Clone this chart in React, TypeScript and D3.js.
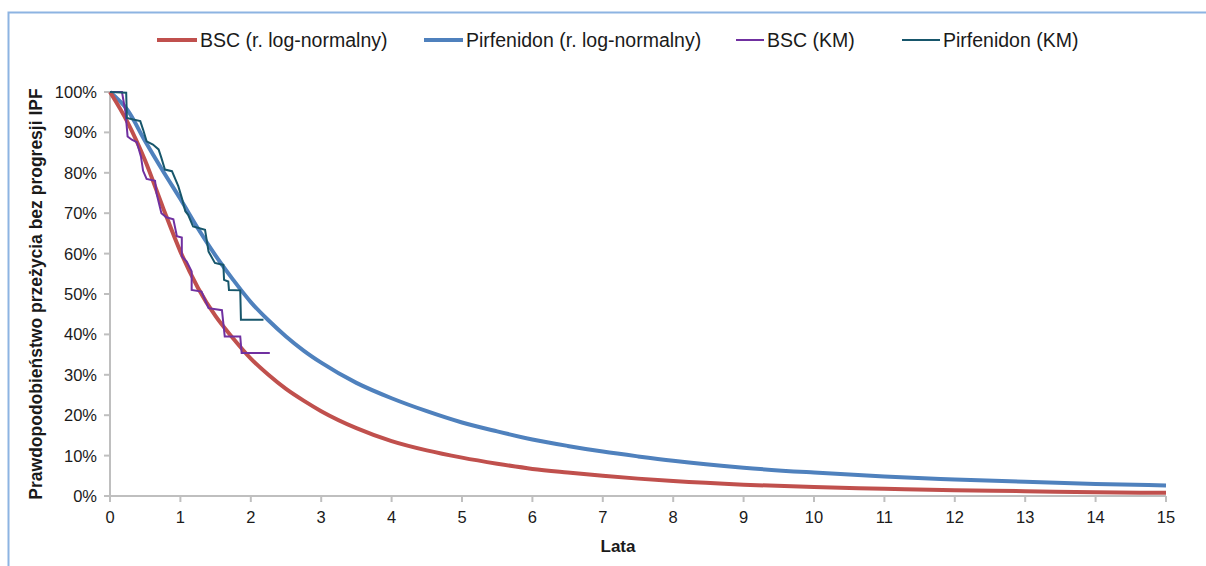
import React from "react";
import * as d3 from "d3";

// Parametric (log-normal) survival curves, sampled in years
const modelYears = [0, 0.25, 0.5, 0.75, 1, 1.25, 1.5, 1.75, 2, 2.25, 2.5, 2.75, 3, 3.5, 4, 4.5, 5, 5.5, 6, 6.5, 7, 7.5, 8, 9, 10, 11, 12, 13, 14, 15];
const bscModel = [1.0, 0.925, 0.83, 0.715, 0.605, 0.515, 0.445, 0.39, 0.34, 0.30, 0.265, 0.236, 0.21, 0.168, 0.136, 0.113, 0.095, 0.08, 0.067, 0.058, 0.05, 0.043, 0.037, 0.028, 0.022, 0.018, 0.014, 0.012, 0.009, 0.008];
const pirModel = [1.0, 0.955, 0.878, 0.805, 0.735, 0.662, 0.595, 0.535, 0.48, 0.435, 0.395, 0.36, 0.33, 0.28, 0.242, 0.21, 0.182, 0.16, 0.14, 0.124, 0.11, 0.098, 0.087, 0.07, 0.058, 0.048, 0.041, 0.035, 0.03, 0.026];

// Kaplan-Meier estimates (time in years, survival)
const bscKmYears = [0, 0.17, 0.22, 0.25, 0.31, 0.38, 0.44, 0.47, 0.52, 0.64, 0.66, 0.73, 0.8, 0.9, 0.95, 1.02, 1.02, 1.09, 1.16, 1.16, 1.3, 1.4, 1.59, 1.63, 1.85, 1.87, 2.27];
const bscKm = [1.0, 1.0, 0.95, 0.89, 0.882, 0.876, 0.84, 0.805, 0.785, 0.78, 0.75, 0.70, 0.69, 0.685, 0.643, 0.64, 0.593, 0.58, 0.556, 0.51, 0.506, 0.465, 0.46, 0.395, 0.395, 0.354, 0.354];
const pirKmYears = [0, 0.23, 0.24, 0.33, 0.43, 0.47, 0.52, 0.61, 0.69, 0.73, 0.78, 0.88, 0.97, 1.02, 1.07, 1.11, 1.18, 1.35, 1.4, 1.49, 1.61, 1.62, 1.68, 1.69, 1.85, 1.86, 2.18];
const pirKm = [1.0, 0.998, 0.936, 0.932, 0.928, 0.907, 0.878, 0.87, 0.858, 0.837, 0.808, 0.804, 0.767, 0.738, 0.705, 0.696, 0.667, 0.659, 0.605, 0.577, 0.572, 0.535, 0.531, 0.51, 0.509, 0.436, 0.436];

const xTicks = d3.range(0, 16);
const yTicks = d3.range(0, 1.01, 0.1);

const legendItems = [
  { label: "BSC (r. log-normalny)", color: "#c0504d", width: 4, x: 157, len: 40 },
  { label: "Pirfenidon (r. log-normalny)", color: "#4f81bd", width: 4, x: 424, len: 39 },
  { label: "BSC (KM)", color: "#7030a0", width: 2, x: 736, len: 28 },
  { label: "Pirfenidon (KM)", color: "#17566b", width: 2, x: 902, len: 38 },
];

const W = 1206;
const H = 566;
const plot = { left: 110, right: 1166, top: 92, bottom: 496 };
const font = "Arial, 'Liberation Sans', sans-serif";

export default function App() {
  const x = d3.scaleLinear().domain([0, 15]).range([plot.left, plot.right]);
  const y = d3.scaleLinear().domain([0, 1]).range([plot.bottom, plot.top]);

  const smooth = d3
    .line<[number, number]>()
    .x((d) => x(d[0]))
    .y((d) => y(d[1]))
    .curve(d3.curveMonotoneX);
  const straight = d3
    .line<[number, number]>()
    .x((d) => x(d[0]))
    .y((d) => y(d[1]));

  const zip = (a: number[], b: number[]) => a.map((v, i) => [v, b[i]] as [number, number]);
  const fmt = d3.format(".0%");

  return (
    <svg
      width={W}
      height={H}
      style={{ position: "absolute", left: 0, top: 0, display: "block", background: "#fff" }}
      fontFamily={font}
    >
      {/* frame */}
      <path d={`M8.5,${H} V12.5 H${W}`} fill="none" stroke="#8db4e2" strokeWidth={2} />

      {/* legend */}
      {legendItems.map((it) => (
        <g key={it.label}>
          <line x1={it.x} x2={it.x + it.len} y1={40} y2={40} stroke={it.color} strokeWidth={it.width} />
          <text x={it.x + it.len + 3} y={47} fontSize={19.5} fill="#1a1a1a">
            {it.label}
          </text>
        </g>
      ))}

      {/* axes */}
      <g stroke="#bfbfbf" strokeWidth={2} fill="none">
        <line x1={plot.left} x2={plot.left} y1={plot.top} y2={plot.bottom} />
        <line x1={plot.left} x2={plot.right} y1={plot.bottom} y2={plot.bottom} />
        {yTicks.map((t) => (
          <line key={"yt" + t} x1={plot.left - 6} x2={plot.left} y1={y(t)} y2={y(t)} />
        ))}
        {xTicks.map((t) => (
          <line key={"xt" + t} x1={x(t)} x2={x(t)} y1={plot.bottom} y2={plot.bottom + 6} />
        ))}
      </g>
      {yTicks.map((t) => (
        <text key={"yl" + t} x={97} y={y(t) + 6} textAnchor="end" fontSize={16.5} fill="#1a1a1a">
          {fmt(t)}
        </text>
      ))}
      {xTicks.map((t) => (
        <text key={"xl" + t} x={x(t)} y={523} textAnchor="middle" fontSize={16.5} fill="#1a1a1a">
          {t}
        </text>
      ))}
      <text x={618} y={552} textAnchor="middle" fontSize={17} fontWeight="bold" fill="#1a1a1a">
        Lata
      </text>
      <text
        transform={`translate(42,${(plot.top + plot.bottom) / 2}) rotate(-90)`}
        textAnchor="middle"
        fontSize={17.5}
        fontWeight="bold"
        fill="#1a1a1a"
      >
        Prawdopodobieństwo przeżycia bez progresji IPF
      </text>

      {/* model curves */}
      <path d={smooth(zip(modelYears, pirModel)) ?? ""} fill="none" stroke="#4f81bd" strokeWidth={4} />
      <path d={smooth(zip(modelYears, bscModel)) ?? ""} fill="none" stroke="#c0504d" strokeWidth={4} />

      {/* Kaplan-Meier curves */}
      <path d={straight(zip(bscKmYears, bscKm)) ?? ""} fill="none" stroke="#7030a0" strokeWidth={2} />
      <path d={straight(zip(pirKmYears, pirKm)) ?? ""} fill="none" stroke="#17566b" strokeWidth={2} />
    </svg>
  );
}
